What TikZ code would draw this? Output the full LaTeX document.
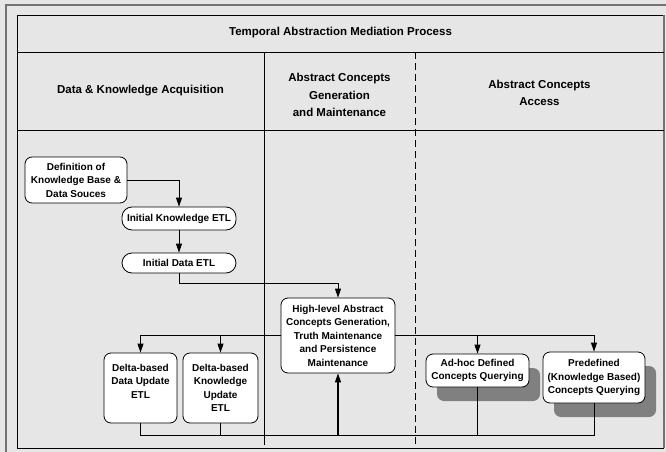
\documentclass[tikz,border=0pt]{standalone}
\usepackage{fontspec}
\setmainfont{Liberation Sans}
\usetikzlibrary{arrows.meta,shadows,calc}
\definecolor{bg}{HTML}{E6E6E6}
\definecolor{shd}{HTML}{808080}
\begin{document}
\begin{tikzpicture}[x=1pt,y=-1pt,
  box/.style={draw=black, fill=white, line width=0.8pt, rounded corners=7pt, align=center, inner sep=0pt, font=\fontsize{10}{13.5}\selectfont\bfseries},
  pill/.style={box, rounded corners=10pt},
  shadowed/.style={drop shadow={shadow xshift=11pt, shadow yshift=-14pt, fill=shd, opacity=1}},
  hdr/.style={align=center, inner sep=0pt, font=\fontsize{11.5}{17.5}\selectfont\bfseries},
  conn/.style={line width=0.8pt},
  arr/.style={conn, -{Triangle[length=9pt,width=6pt]}},
  frame/.style={line width=0.8pt}
]
\useasboundingbox (0,0) rectangle (666,452);
\fill[bg] (0,0) rectangle (666,452);
% frames
\draw[line width=1.5pt, draw=black!55] (6,452) -- (6,5) -- (666,5);
\draw[frame] (664,15) -- (17,15) -- (17,448) -- (664,448);
\draw[frame, draw=black!55, line width=1.2pt] (664,15) -- (664,448);
\draw[frame] (17,52) -- (664,52);
\draw[frame] (17,130) -- (664,130);
\draw[frame] (264,52) -- (264,445);
\draw[frame, dash pattern=on 7pt off 4pt] (415,52) -- (415,445);
% headers
\node[hdr] (title) at (340.5,33) {Temporal Abstraction Mediation Process};
\node[hdr] (h1) at (140.5,91) {Data \& Knowledge Acquisition};
\node[hdr] (h2) at (339.5,95) {Abstract Concepts\\Generation\\and Maintenance};
\node[hdr] (h3) at (539.5,93) {Abstract Concepts\\Access};
% boxes
\node[box, minimum width=102pt, minimum height=46pt] (def) at (76,180) {Definition of\\Knowledge Base \&\\Data Souces};
\node[pill, minimum width=114pt, minimum height=23pt] (ik) at (179,218.5) {Initial Knowledge ETL};
\node[pill, minimum width=114pt, minimum height=20pt] (id) at (179,263) {Initial Data ETL};
\node[box, minimum width=114pt, minimum height=75pt] (hl) at (338,335.5) {High-level Abstract\\Concepts Generation,\\Truth Maintenance\\and Persistence\\Maintenance};
\node[box, minimum width=73pt, minimum height=70pt] (dd) at (140.5,388) {Delta-based\\Data Update\\ETL\\~};
\node[box, minimum width=75pt, minimum height=70pt] (dk) at (220.5,388) {Delta-based\\Knowledge\\Update\\ETL};
\node[box, shadowed, minimum width=103pt, minimum height=33pt] (ah) at (477.5,370.5) {Ad-hoc Defined\\Concepts Querying};
\node[box, shadowed, minimum width=102pt, minimum height=51pt] (pd) at (594,377.5) {Predefined\\(Knowledge Based)\\Concepts Querying};
% connectors
\draw[arr] (def.east) -| (ik.north);
\draw[arr] (ik.south) -- (id.north);
\draw[arr] (id.south) -- ++(0,10) -| (hl.north);
\draw[arr] (hl.west) -| (dd.north);
\draw[arr] (hl.west -| dk.north) -- (dk.north);
\draw[arr] (hl.east) -| (pd.north);
\draw[arr] (hl.east -| ah.north) -- (ah.north);
\coordinate (bot) at (0,435);
\draw[conn] (dd.south) |- (bot -| pd.south) -- (pd.south);
\draw[conn] (dk.south) -- (dk.south |- bot);
\draw[conn] (ah.south) -- (ah.south |- bot);
\draw[arr, line width=1.2pt] (hl.south |- bot) -- (hl.south);
\end{tikzpicture}
\end{document}
